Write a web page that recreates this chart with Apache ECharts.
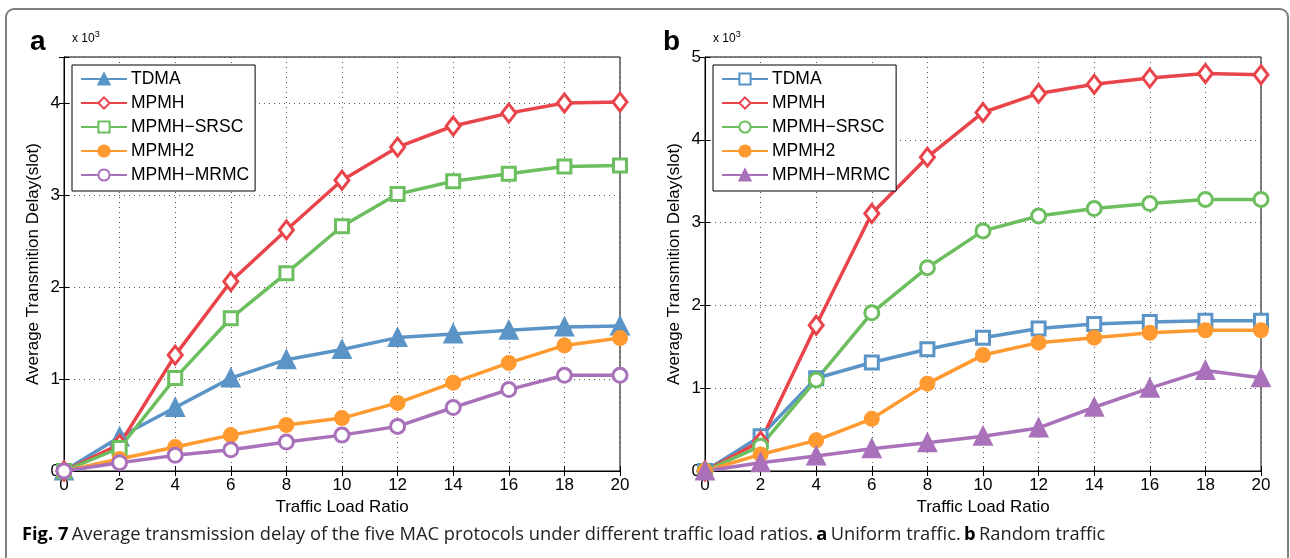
<!DOCTYPE html>
<html>
<head>
<meta charset="utf-8">
<script src="https://cdn.jsdelivr.net/npm/echarts@6/dist/echarts.min.js"></script>
<style>
html, body { margin: 0; padding: 0; background: #fff; }
#chart { width: 1290px; height: 558px; }
</style>
</head>
<body>
<div id="chart"></div>
<script>
// traffic load ratio on the x axis
var loadRatio = [0, 2, 4, 6, 8, 10, 12, 14, 16, 18, 20];
var protocolNames = ['TDMA', 'MPMH', 'MPMH\u2212SRSC', 'MPMH2', 'MPMH\u2212MRMC'];
var yTicksA = [0, 1, 2, 3, 4];
var yTicksB = [0, 1, 2, 3, 4, 5];

// (a) uniform traffic, delay in x10^3 slots
var uniTdma = [0, 0.37, 0.69, 1.01, 1.21, 1.32, 1.45, 1.49, 1.53, 1.565, 1.575];
var uniMpmh = [0, 0.29, 1.26, 2.06, 2.62, 3.16, 3.52, 3.75, 3.89, 4.0, 4.01];
var uniSrsc = [0, 0.25, 1.01, 1.66, 2.15, 2.66, 3.01, 3.15, 3.23, 3.31, 3.32];
var uniMpmh2 = [0, 0.13, 0.26, 0.39, 0.50, 0.575, 0.74, 0.96, 1.175, 1.365, 1.445];
var uniMrmc = [0, 0.09, 0.17, 0.23, 0.315, 0.39, 0.485, 0.69, 0.885, 1.04, 1.04];

// (b) random traffic
var rndTdma = [0, 0.42, 1.12, 1.31, 1.47, 1.61, 1.72, 1.775, 1.80, 1.815, 1.815];
var rndMpmh = [0, 0.36, 1.76, 3.11, 3.79, 4.33, 4.56, 4.67, 4.745, 4.80, 4.785];
var rndSrsc = [0, 0.30, 1.10, 1.91, 2.455, 2.90, 3.08, 3.17, 3.23, 3.28, 3.28];
var rndMpmh2 = [0, 0.20, 0.37, 0.63, 1.055, 1.40, 1.55, 1.61, 1.67, 1.70, 1.70];
var rndMrmc = [0, 0.10, 0.18, 0.27, 0.34, 0.42, 0.52, 0.77, 1.00, 1.215, 1.125];

var colors = ['#5b94c6', '#e8444a', '#6cbe5e', '#ff9a30', '#a971b9'];
var axisFont = 'Liberation Sans';

function pairs(ys) {
	return loadRatio.map(function (x, i) { return [x, ys[i]]; });
}

// one line series; filled markers get the line colour, hollow ones white
function makeLine(name, ys, idx, symbol, size, filled, panel) {
	var c = colors[idx];
	return {
		name: panel + ':' + name,
		type: 'line',
		xAxisIndex: panel === 'a' ? 0 : 2,
		yAxisIndex: panel === 'a' ? 0 : 2,
		data: pairs(ys),
		symbol: symbol,
		symbolSize: size,
		showAllSymbol: true,
		lineStyle: { color: c, width: 3.5 },
		itemStyle: { color: filled ? c : '#fff', borderColor: c, borderWidth: 3 },
		emphasis: { disabled: true },
		animation: false
	};
}

function yTickLabel(list) {
	return function (v) { return list.indexOf(v) >= 0 ? String(v) : ''; };
}

function bottomX(gi) {
	return {
		type: 'value', gridIndex: gi, min: 0, max: 20, interval: 2,
		name: 'Traffic Load Ratio', nameLocation: 'middle', nameGap: 26,
		nameTextStyle: { fontFamily: axisFont, fontSize: 17, color: '#000' },
		axisLine: { lineStyle: { color: '#000', width: 1 } },
		axisTick: { inside: true, length: 5, lineStyle: { color: '#000' } },
		axisLabel: { fontFamily: axisFont, fontSize: 17, color: '#000', margin: 6 },
		splitLine: { show: true, lineStyle: { color: '#555', type: [1, 4], width: 1 } }
	};
}
function topX(gi) {
	return {
		type: 'value', gridIndex: gi, min: 0, max: 20, interval: 2, position: 'top',
		axisLine: { lineStyle: { color: '#000' } },
		axisTick: { inside: true, length: 5, lineStyle: { color: '#000' } },
		axisLabel: { show: false }, splitLine: { show: false }
	};
}
function leftY(gi, max, ticks) {
	return {
		type: 'value', gridIndex: gi, min: 0, max: max, interval: 1,
		name: 'Average Transmition Delay(slot)', nameLocation: 'middle', nameGap: 22,
		nameTextStyle: { fontFamily: axisFont, fontSize: 17, color: '#000' },
		axisLine: { show: true, lineStyle: { color: '#000' } },
		axisTick: { show: true, inside: true, length: 5, lineStyle: { color: '#000' } },
		axisLabel: { fontFamily: axisFont, fontSize: 17, color: '#000', margin: 4, formatter: yTickLabel(ticks) },
		splitLine: { show: true, lineStyle: { color: '#555', type: [1, 4], width: 1 } }
	};
}
function rightY(gi, max) {
	return {
		type: 'value', gridIndex: gi, min: 0, max: max, interval: 1, position: 'right',
		axisLine: { show: true, lineStyle: { color: '#000' } },
		axisTick: { show: true, inside: true, length: 5, lineStyle: { color: '#000' } },
		axisLabel: { show: false }, splitLine: { show: false }
	};
}

function makeLegend(panel, left) {
	return {
		left: left, top: 65,
		orient: 'vertical',
		data: protocolNames.map(function (n) { return panel + ':' + n; }),
		formatter: function (n) { return n.slice(2); },
		backgroundColor: '#fff',
		borderColor: '#000', borderWidth: 1,
		padding: [5, 6, 7, 8],
		itemWidth: 46, itemHeight: 14, itemGap: 6,
		selectedMode: false,
		textStyle: { fontFamily: axisFont, fontSize: 17.5, lineHeight: 16, color: '#000', padding: [0, 0, 0, -1] }
	};
}

var option = {
	backgroundColor: '#fff',
	animation: false,
	grid: [
		{ left: 64, right: 670, top: 57, bottom: 87, show: true, borderColor: '#000', borderWidth: 1 },
		{ left: 705, right: 29, top: 57, bottom: 87, show: true, borderColor: '#000', borderWidth: 1 }
	],
	xAxis: [bottomX(0), topX(0), bottomX(1), topX(1)],
	yAxis: [leftY(0, 4.5, yTicksA), rightY(0, 4.5), leftY(1, 5, yTicksB), rightY(1, 5)],
	legend: [makeLegend('a', 72), makeLegend('b', 713)],
	series: [
		makeLine(protocolNames[0], uniTdma, 0, 'triangle', 16, true, 'a'),
		makeLine(protocolNames[1], uniMpmh, 1, 'diamond', [14, 18], false, 'a'),
		makeLine(protocolNames[2], uniSrsc, 2, 'rect', 13, false, 'a'),
		makeLine(protocolNames[3], uniMpmh2, 3, 'circle', 13, true, 'a'),
		makeLine(protocolNames[4], uniMrmc, 4, 'circle', 14, false, 'a'),
		makeLine(protocolNames[0], rndTdma, 0, 'rect', 13, false, 'b'),
		makeLine(protocolNames[1], rndMpmh, 1, 'diamond', [14, 18], false, 'b'),
		makeLine(protocolNames[2], rndSrsc, 2, 'circle', 14, false, 'b'),
		makeLine(protocolNames[3], rndMpmh2, 3, 'circle', 13, true, 'b'),
		makeLine(protocolNames[4], rndMrmc, 4, 'triangle', 16, true, 'b')
	],
	graphic: [
		// figure frame, rounded at the top corners
		{ type: 'rect', shape: { x: 6, y: 9, width: 1282, height: 620, r: 8 }, style: { fill: null, stroke: '#808080', lineWidth: 2 }, silent: true },
		{ type: 'text', left: 30, top: 28, style: { text: 'a', font: 'bold 28px "Liberation Sans"', fill: '#000' } },
		{ type: 'text', left: 663, top: 28, style: { text: 'b', font: 'bold 28px "Liberation Sans"', fill: '#000' } },
		{ type: 'text', left: 72, top: 30, style: { text: '{m|x 10}{s|3}', rich: { m: { fontFamily: axisFont, fontSize: 12, fill: '#000', verticalAlign: 'bottom' }, s: { fontFamily: axisFont, fontSize: 9, fill: '#000', verticalAlign: 'top', padding: [0, 0, 6, 0] } } } },
		{ type: 'text', left: 713, top: 30, style: { text: '{m|x 10}{s|3}', rich: { m: { fontFamily: axisFont, fontSize: 12, fill: '#000', verticalAlign: 'bottom' }, s: { fontFamily: axisFont, fontSize: 9, fill: '#000', verticalAlign: 'top', padding: [0, 0, 6, 0] } } } },
		{ type: 'text', left: 22, top: 526, style: {
			text: '{b|Fig. 7} {r|Average transmission delay of the five MAC protocols under different traffic load ratios.} {b|a} {r|Uniform traffic.} {b|b} {r|Random traffic}',
			rich: {
				b: { fontFamily: 'Open Sans', fontWeight: 'bold', fontSize: 18.3, fill: '#000' },
				r: { fontFamily: 'Open Sans', fontSize: 18.3, fill: '#222' }
			}
		} }
	]
};

var myChart = echarts.init(document.getElementById('chart'));
myChart.setOption(option);
</script>
</body>
</html>
